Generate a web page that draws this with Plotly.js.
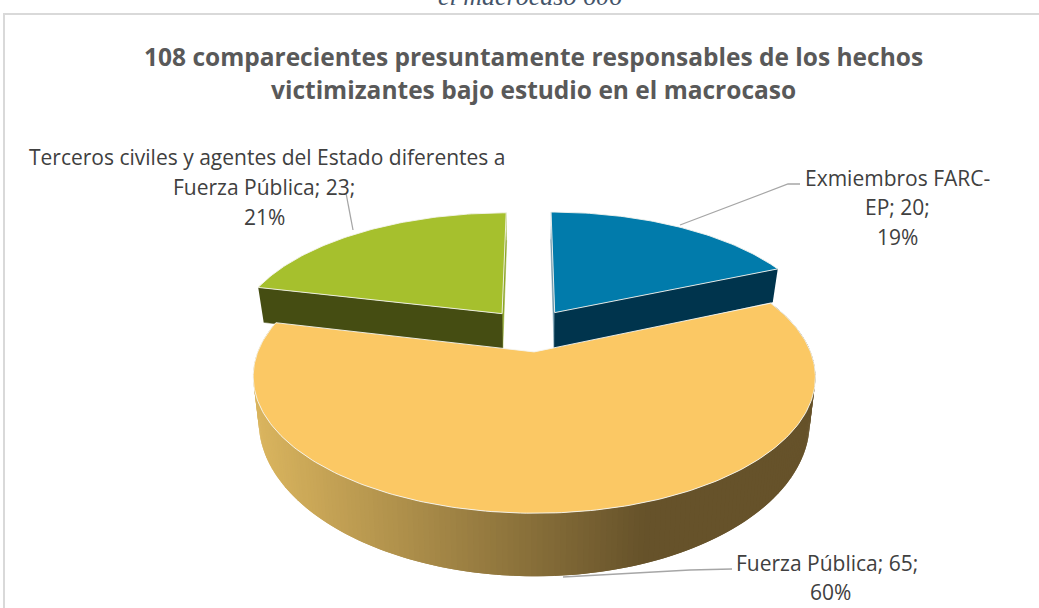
<!DOCTYPE html>
<html>
<head>
<meta charset="utf-8">
<script src="https://cdn.plot.ly/plotly-3.0.1.min.js"></script>
<style>html,body{margin:0;padding:0;background:#fff;overflow:hidden}#chart{width:1039px;height:608px}</style>
</head>
<body>
<div id="chart"></div>
<script>
// ---- data ----
const categories = ["Exmiembros FARC-EP", "Fuerza Pública", "Terceros civiles y agentes del Estado diferentes a Fuerza Pública"];
const counts = [20, 65, 23];
const labelLines = [
  ["Exmiembros FARC-", "EP; 20;", "19%"],
  ["Fuerza Pública; 65;", "60%"],
  ["Terceros civiles y agentes del Estado diferentes a", "Fuerza Pública; 23;", "21%"]
];
const titleLines = ["108 comparecientes presuntamente responsables de los hechos", "victimizantes bajo estudio en el macrocaso"];
const captionText = "el macrocaso 606";

// ---- style / projection ----
const topColors = ["#017bab", "#fbc864", "#a6c02d"];
const sideColors = ["#00344d", "#66522a", "#454d12"];
const sliverColors = ["#6f98ad", "#66522a", "#8ea62a"];
const cx = 530, cy = 330, B = 268, A = 124, p = 0.177, depth = 39.6, lowerScale = 0.98, explode = 0.172;
const labelPos = [
  [[897,178],[897,207],[897,237]],
  [[827,563],[830,592]],
  [[267,157],[264,187],[264,217]]
];
const leaders = [
  [[680,225],[788,184],[800,184]],
  [[563,577],[690,570],[732,569]],
  [[353,230],[346,193]]
];

const total = counts.reduce((a,b)=>a+b,0);
const rad = d => d*Math.PI/180;
function project(U,V,lower){
  const den = 1 - p*V;
  const sc = lower ? lowerScale : 1;
  return [cx + sc*B*U/den, cy + A*V/den + (lower ? depth/(den*den) : 0)];
}
// slices start at 12 o'clock, clockwise
let acc = 0;
const slices = counts.map((v,i)=>{
  const a0 = acc/total*360; acc += v; const a1 = acc/total*360;
  const mid = rad((a0+a1)/2);
  return {i, a0, a1, ox: explode*Math.sin(mid), oy: -explode*Math.cos(mid)};
});
const pt = (s,deg,lower)=>project(s.ox+Math.sin(rad(deg)), s.oy-Math.cos(rad(deg)), lower);
const apex = (s,lower)=>project(s.ox,s.oy,lower);
function arc(s,d0,d1,lower){
  const out=[]; const n=Math.max(2,Math.ceil(Math.abs(d1-d0)));
  for(let k=0;k<=n;k++) out.push(pt(s,d0+(d1-d0)*k/n,lower));
  return out;
}
const traces=[];
function poly(points,fill,line,width,name){
  traces.push({type:"scatter",mode:"lines",x:points.map(q=>q[0]),y:points.map(q=>q[1]),fill:"toself",
    fillcolor:fill,line:{color:line,width:width},hoverinfo:"skip",showlegend:false,name:name||""});
}
const edge="rgba(245,245,240,0.9)";
// back slices: cut faces and tops
[slices[0],slices[2]].forEach(s=>{
  const nm=categories[s.i];
  const cornerDeg = s.i===0 ? s.a1 : s.a0;
  const innerDeg = s.i===0 ? s.a0 : s.a1;
  poly([pt(s,innerDeg,false),apex(s,false),apex(s,true),pt(s,innerDeg,true)],sliverColors[s.i],sliverColors[s.i],0.5,nm);
  poly([pt(s,cornerDeg,false),apex(s,false),apex(s,true),pt(s,cornerDeg,true)],sideColors[s.i],sideColors[s.i],0.5,nm);
  poly([apex(s,false)].concat(arc(s,s.a0,s.a1,false)).concat([apex(s,false)]),topColors[s.i],edge,1,nm);
});
// front slice: wall with a left-to-right shading; each strip overlaps the next so no seams show
const f=slices[1];
const shadeL=[217,180,94], shadeR=[102,82,42], xL=258, xR=645;
const shade=x=>{const t=Math.min(1,Math.max(0,(x-xL)/(xR-xL)));
  return "rgb("+shadeL.map((c,j)=>Math.round(c+(shadeR[j]-c)*t)).join(",")+")";};
const step=1;
for(let d=f.a0;d<f.a1;d+=step){
  const e=Math.min(d+step,f.a1), e2=Math.min(d+2*step,f.a1);
  const q=[pt(f,d,false),pt(f,e2,false),pt(f,e2,true),pt(f,d,true)];
  const col=shade(pt(f,(d+e)/2,false)[0]);
  poly(q.concat([q[0]]),col,"rgba(0,0,0,0)",0,categories[1]);
}
poly([apex(f,false)].concat(arc(f,f.a0,f.a1,false)).concat([apex(f,false)]),topColors[1],edge,1,categories[1]);

// ---- text ----
const annotations=[];
const ann=(text,x,y,size,color,family,extra)=>annotations.push(Object.assign({text,x,y,xref:"x",yref:"y",showarrow:false,
  xanchor:"center",yanchor:"middle",font:{size,color,family}},extra||{}));
const sans='"Open Sans", sans-serif';
titleLines.forEach((t,i)=>ann("<b>"+t+"</b>",533,[56,89][i],24.5,"#595959",sans));
ann("<i>"+captionText+"</i>",530,0,26,"#44546a",'"Liberation Serif", serif',{yshift:4});
labelLines.forEach((lines,i)=>lines.forEach((t,j)=>ann(t,labelPos[i][j][0],labelPos[i][j][1],21,"#404040",sans)));

const shapes=[
  {type:"path",path:"M 4 620 L 4 14 L 1050 14",line:{color:"#d9d9d9",width:2},xref:"x",yref:"y"}
];
leaders.forEach(l=>shapes.push({type:"path",xref:"x",yref:"y",line:{color:"#a6a6a6",width:1.3},
  path:l.map((q,i)=>(i?"L ":"M ")+q[0]+" "+q[1]).join(" ")}));

Plotly.newPlot("chart",traces,{
  width:1039,height:608,margin:{l:0,r:0,t:0,b:0,pad:0},
  paper_bgcolor:"#fff",plot_bgcolor:"#fff",showlegend:false,hovermode:false,
  xaxis:{range:[0,1039],visible:false,fixedrange:true},
  yaxis:{range:[608,0],visible:false,fixedrange:true},
  annotations,shapes
},{displayModeBar:false,staticPlot:true});
</script>
</body>
</html>
